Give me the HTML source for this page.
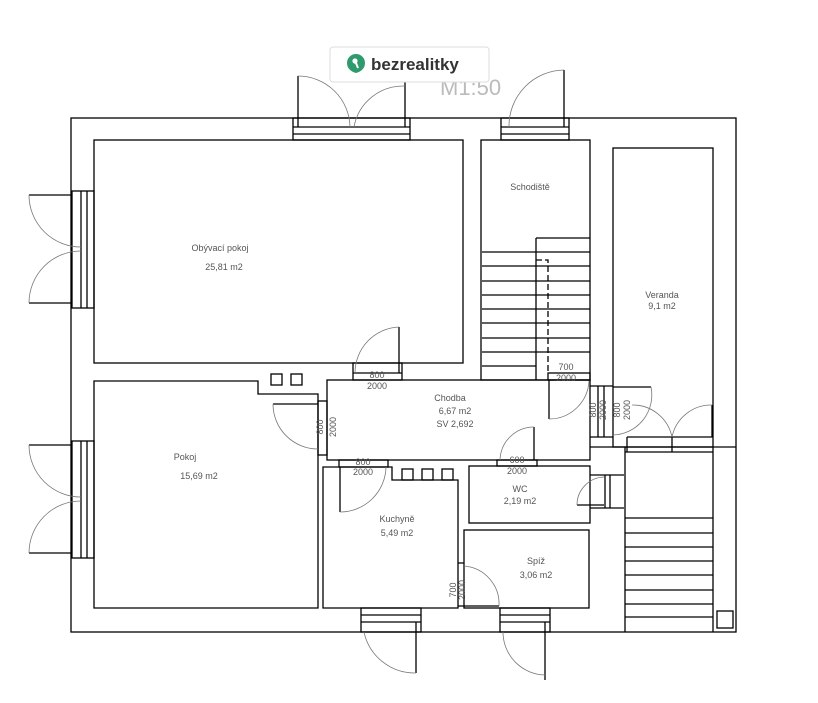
<!DOCTYPE html>
<html><head><style>
html,body{margin:0;padding:0;background:#fff;width:818px;height:703px;overflow:hidden}
svg{display:block}
text{font-family:"Liberation Sans",sans-serif;fill:#555;font-size:9px}
</style></head><body>
<svg width="818" height="703" viewBox="0 0 818 703">
<g fill="none" stroke="#000" stroke-width="1.3">
<rect x="71" y="118" width="665" height="514"/>
<rect x="94" y="140" width="369" height="223"/>
<polygon points="94,381 258,381 258,394 318,394 318,608 94,608"/>
<rect x="327" y="380" width="263" height="80"/>
<polygon points="323,467 392,467 392,480 458,480 458,608 323,608"/>
<rect x="469" y="466" width="121" height="57"/>
<rect x="464" y="530" width="125" height="78"/>
<rect x="481" y="140" width="109" height="240"/>
<rect x="613" y="148" width="100" height="299"/>
<rect x="271" y="374" width="11" height="11"/><rect x="291" y="374" width="11" height="11"/>
<rect x="402" y="469" width="11" height="11"/><rect x="422" y="469" width="11" height="11"/><rect x="442" y="469" width="11" height="11"/>
<rect x="717" y="611" width="16" height="17"/>
<line x1="536" y1="238" x2="536" y2="380"/><line x1="536" y1="238" x2="590" y2="238"/>
<path d="M482 252H590M482 266H590M482 281H590M482 295H590M482 309H590M482 323H590M482 338H590M482 352H590M482 366H536"/>
<path d="M536 260H548V373" stroke-dasharray="6,3"/>
<line x1="625" y1="447" x2="625" y2="632"/><line x1="713" y1="447" x2="713" y2="632"/>
<path d="M590 447H736M625 452H713M625 518H713M625 533H713M625 547H713M625 561H713M625 575H713M625 590H713M625 604H713M625 617H713"/>
<rect x="72" y="191" width="22" height="117"/><line x1="81" y1="191" x2="81" y2="308"/><line x1="87" y1="191" x2="87" y2="308"/>
<path d="M29 195H72M29 303H72"/>
<rect x="72" y="441" width="22" height="117"/><line x1="81" y1="441" x2="81" y2="558"/><line x1="87" y1="441" x2="87" y2="558"/>
<path d="M29 445H72M29 553H72"/>
<rect x="293" y="118" width="117" height="22"/><path d="M293 127H410M293 134H410M298 76V127M405 76V127"/>
<rect x="501" y="118" width="68" height="22"/><path d="M501 127H569M501 134H569M564 70V127"/>
<rect x="353" y="363" width="49" height="17"/><path d="M353 373H402M399 327V373"/>
<rect x="318" y="401" width="9" height="54"/><path d="M273 404H318"/>
<rect x="339" y="460" width="49" height="7"/><path d="M340 467V512"/>
<rect x="497" y="460" width="40" height="6"/><path d="M534 427V460"/>
<path d="M590 475H624M590 508H624M605 475V508M610 475V508M577 505H604"/>
<path d="M458 563H464M458 606H499"/>
<rect x="500" y="608" width="50" height="24"/><path d="M500 615H550M500 622H550M545 622V680"/>
<rect x="361" y="608" width="60" height="24"/><path d="M361 615H421M361 622H421M416 622V673"/>
<rect x="548" y="373" width="42" height="7"/><path d="M549 380V419"/>
<path d="M590 386H613M590 437H613M598 386V437M604 386V437M613 387H651M627 437V452M672 437V452M627 437H713M712 405V437"/>
</g>
<g fill="none" stroke="#777" stroke-width="0.8">
<path d="M29 195A52 52 0 0 0 81 247M29 303A52 52 0 0 1 81 251"/>
<path d="M29 445A52 52 0 0 0 81 497M29 553A52 52 0 0 1 81 501"/>
<path d="M298 76A52 52 0 0 1 350 127M405 86A50 50 0 0 0 354 127"/>
<path d="M564 70A56 56 0 0 0 509 127"/>
<path d="M399 327A46 46 0 0 0 355 373"/>
<path d="M273 404A45 45 0 0 0 318 449"/>
<path d="M340 512A46 46 0 0 0 386 467"/>
<path d="M534 427A34 34 0 0 0 500 460"/>
<path d="M577 505A28 28 0 0 1 604 477"/>
<path d="M499 606A38 38 0 0 0 464 566"/>
<path d="M549 419A40 40 0 0 0 589 381"/>
<path d="M364 632A52 52 0 0 0 416 673"/>
<path d="M503 632A43 43 0 0 0 545 675"/>
<path d="M651 387A40 40 0 0 1 613 435"/>
<path d="M632 405A40 40 0 0 1 672 437M712 405A40 40 0 0 0 672 437"/>
</g>
<text x="440" y="95" style="font-size:22px;fill:#bbb">M1:50</text>
<rect x="330" y="47" width="159" height="35" rx="3" fill="#fff" stroke="#ddd"/>
<path d="M356 54a9 9 0 0 0-9 9c0 6 5 9 9 10 4-1 9-4 9-10a9 9 0 0 0-9-9z" fill="#2f9a6e"/>
<circle cx="355" cy="61" r="2.6" fill="#fff"/><path d="M356 63l2 5" stroke="#fff" stroke-width="2"/>
<text x="371" y="70" style="font-size:17px;font-weight:bold;fill:#333">bezrealitky</text>
<g text-anchor="middle">
<text x="220" y="251">Obývací pokoj</text><text x="224" y="270">25,81 m2</text>
<text x="185" y="460">Pokoj</text><text x="199" y="479">15,69 m2</text>
<text x="450" y="401">Chodba</text><text x="455" y="414">6,67 m2</text><text x="455" y="427">SV 2,692</text>
<text x="397" y="522">Kuchyně</text><text x="397" y="536">5,49 m2</text>
<text x="520" y="492">WC</text><text x="520" y="504">2,19 m2</text>
<text x="536" y="564">Spíž</text><text x="536" y="578">3,06 m2</text>
<text x="530" y="190">Schodiště</text>
<text x="662" y="298">Veranda</text><text x="662" y="309">9,1 m2</text>
<text x="377" y="378">800</text><text x="377" y="389">2000</text>
<text x="363" y="465">800</text><text x="363" y="475">2000</text>
<text x="517" y="463">600</text><text x="517" y="474">2000</text>
<text x="566" y="370">700</text><text x="566" y="381">2000</text>
</g>
<g text-anchor="middle">
<text transform="translate(323,427) rotate(-90)">800</text>
<text transform="translate(336,427) rotate(-90)">2000</text>
<text transform="translate(456,590) rotate(-90)">700</text>
<text transform="translate(465,590) rotate(-90)">2000</text>
<text transform="translate(596,410) rotate(-90)">800</text>
<text transform="translate(606,410) rotate(-90)">2000</text>
<text transform="translate(620,410) rotate(-90)">800</text>
<text transform="translate(630,410) rotate(-90)">2000</text>
</g>
</svg>
</body></html>
